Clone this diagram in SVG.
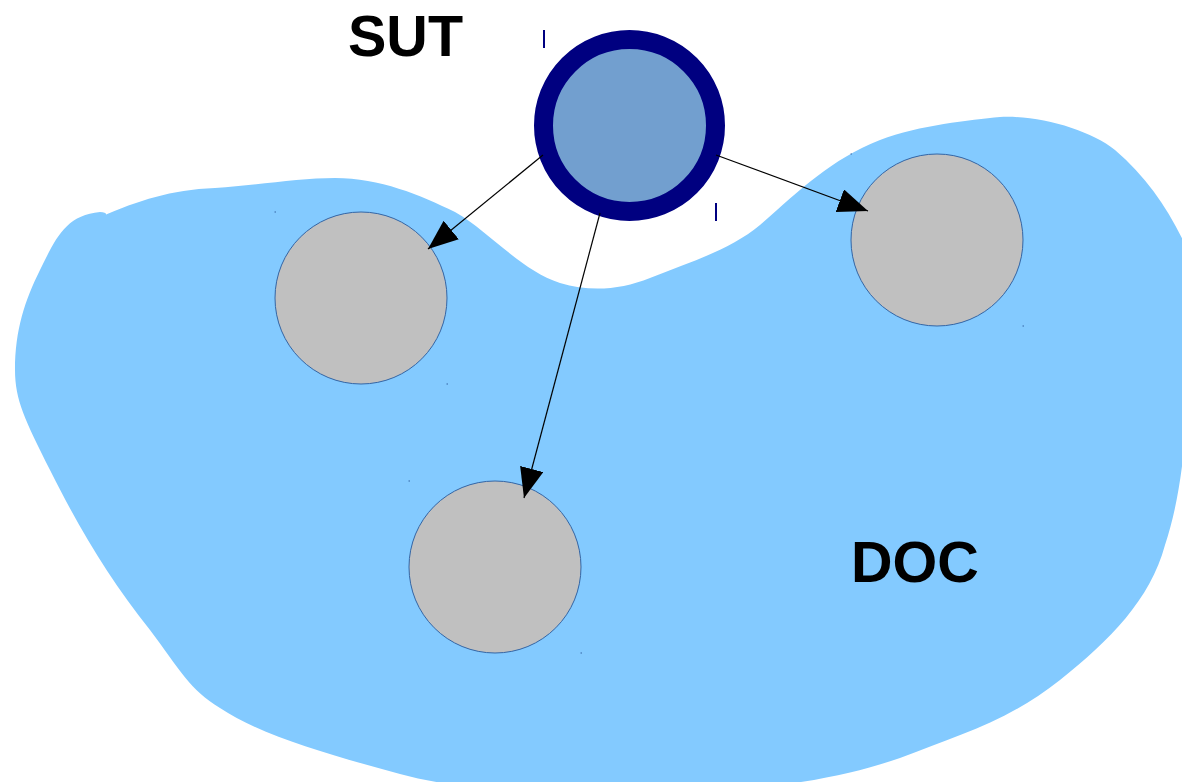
<svg xmlns="http://www.w3.org/2000/svg" width="1182" height="782" viewBox="0 0 1182 782">
  <style>
    .label { font-family: "Liberation Sans", Arial, sans-serif; font-weight: bold; font-size: 57.5px; fill: #000000; }
    .doc-item { fill: #c0c0c0; stroke: #3465a4; stroke-width: 1; }
    .link { stroke: #000000; stroke-width: 1.2; fill: none; marker-end: url(#arrow); }
    .tick { stroke: #000080; stroke-width: 2; }
    .dot { fill: #3465a4; }
  </style>
  <defs>
    <marker id="arrow" markerUnits="userSpaceOnUse" viewBox="0 0 30 24" refX="30" refY="12" markerWidth="30" markerHeight="24" orient="auto">
      <path d="M0,0 L30,12 L0,24 Z" fill="#000000"/>
    </marker>
  </defs>

  <rect width="1182" height="782" fill="#ffffff"/>

  <!-- DOC region -->
  <g id="doc-region">
    <path fill="#83caff" d="M100,217
      C140,200 170,190 215,188
      C260,185 300,178 335,178
      C380,178 420,195 455,212
      C490,232 520,270 560,283
      C590,292 620,290 650,278
      C690,262 730,250 760,225
      C800,190 830,160 880,140
      C920,125 970,120 1000,117
      C1040,115 1090,130 1115,150
      C1150,180 1172,215 1190,255
      L1190,380
      C1185,450 1180,500 1165,545
      C1150,600 1110,640 1060,680
      C1010,720 960,735 900,758
      C850,775 780,792 650,792
      C520,792 460,790 400,774
      C330,755 260,735 220,708
      C190,690 180,670 150,630
      C110,580 80,530 50,470
      C25,420 15,400 15,370
      C15,330 25,300 40,270
      C55,240 65,215 100,212
      C108,212 108,216 100,217 Z"/>
    <text class="label" x="851" y="582">DOC</text>
  </g>

  <!-- items inside DOC -->
  <g id="item-left">
    <circle class="doc-item" cx="361" cy="298" r="86"/>
  </g>
  <g id="item-right">
    <circle class="doc-item" cx="937" cy="240" r="86"/>
  </g>
  <g id="item-bottom">
    <circle class="doc-item" cx="495" cy="567" r="86"/>
  </g>

  <!-- corner markers -->
  <g id="markers">
    <rect class="dot" x="274.5" y="211.5" width="1.5" height="1"/>
    <rect class="dot" x="446.5" y="383.5" width="1.5" height="1"/>
    <rect class="dot" x="850.5" y="153.5" width="1.5" height="1"/>
    <rect class="dot" x="1022.5" y="325.5" width="1.5" height="1"/>
    <rect class="dot" x="408.5" y="480.5" width="1.5" height="1"/>
    <rect class="dot" x="580.5" y="652.5" width="1.5" height="1"/>
    <line class="tick" x1="544" y1="30" x2="544" y2="48"/>
    <line class="tick" x1="716" y1="203" x2="716" y2="221"/>
  </g>

  <!-- SUT -->
  <g id="sut">
    <circle cx="629.5" cy="125.5" r="86" fill="#729fcf" stroke="#000080" stroke-width="19"/>
    <text class="label" x="348" y="56">SUT</text>
  </g>

  <!-- connectors -->
  <g id="connectors">
    <line class="link" x1="543" y1="155" x2="428" y2="249"/>
    <line class="link" x1="716" y1="155" x2="868" y2="211"/>
    <line class="link" x1="600" y1="213" x2="524" y2="498"/>
  </g>
</svg>
